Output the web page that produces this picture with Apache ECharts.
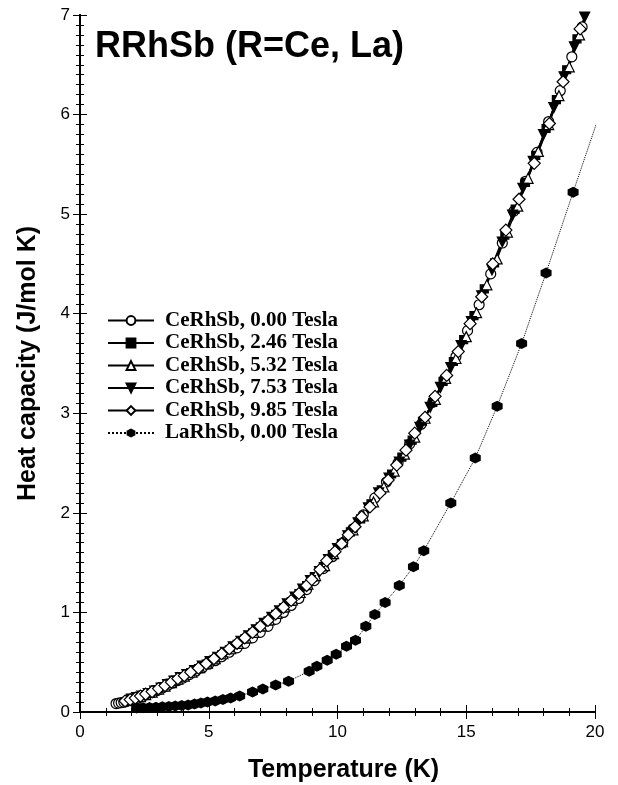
<!DOCTYPE html>
<html>
<head>
<meta charset="utf-8">
<title>RRhSb heat capacity</title>
<script src="https://cdn.jsdelivr.net/npm/echarts@6/dist/echarts.min.js"></script>
<style>
  html, body { margin: 0; padding: 0; background: #fff; }
  #heatChart { width: 618px; height: 785px; }
</style>
</head>
<body>
<div id="heatChart"></div>
<script>
// [T (K), C (J/mol K)]
const ce000 = [[1.40,.085],[1.50,.09],[1.60,.095],[1.70,.10],[1.80,.105],[1.90,.115],[2.00,.12],[2.15,.13],[2.30,.145],[2.45,.16],[2.60,.175],[2.80,.195],[3.00,.215],[3.20,.24],[3.40,.265],[3.60,.29],[3.80,.315],[4.00,.34],[4.25,.375],[4.50,.41],[4.75,.445],[5.00,.48],[5.25,.515],[5.50,.555],[5.80,.60],[6.10,.645],[6.40,.69],[6.70,.745],[7.00,.80],[7.30,.86],[7.60,.93],[7.90,1.00],[8.20,1.07],[8.50,1.14],[8.80,1.23],[9.10,1.32],[9.45,1.44],[9.80,1.56],[10.2,1.70],[10.6,1.84],[11.0,1.98],[11.45,2.15],[11.9,2.31],[12.35,2.50],[12.8,2.69],[13.25,2.89],[13.7,3.11],[14.15,3.34],[14.6,3.57],[15.05,3.83],[15.5,4.09],[15.95,4.40],[16.4,4.71],[16.85,5.03],[17.3,5.33],[17.75,5.62],[18.2,5.93],[18.65,6.24],[19.1,6.58],[19.5,6.88],[19.8,7.15]]
const ce246 = [[1.90,.12],[2.10,.135],[2.30,.15],[2.50,.17],[2.75,.195],[3.00,.225],[3.25,.255],[3.50,.29],[3.75,.32],[4.00,.355],[4.30,.395],[4.60,.435],[4.90,.48],[5.20,.525],[5.50,.575],[5.80,.625],[6.10,.68],[6.40,.735],[6.70,.795],[7.00,.855],[7.30,.915],[7.60,.98],[7.90,1.045],[8.20,1.11],[8.50,1.19],[8.80,1.27],[9.10,1.36],[9.45,1.46],[9.80,1.58],[10.15,1.69],[10.5,1.81],[10.9,1.94],[11.3,2.09],[11.7,2.23],[12.1,2.39],[12.5,2.56],[12.9,2.73],[13.3,2.92],[13.7,3.11],[14.1,3.32],[14.5,3.52],[14.9,3.74],[15.3,3.98],[15.7,4.25],[16.1,4.51],[16.5,4.79],[16.9,5.05],[17.3,5.32],[17.7,5.59],[18.1,5.86],[18.5,6.15],[18.9,6.45],[19.3,6.76],[19.65,7.03]]
const ce532 = [[1.95,.125],[2.15,.14],[2.35,.155],[2.55,.175],[2.80,.20],[3.05,.23],[3.30,.26],[3.55,.295],[3.80,.33],[4.05,.36],[4.35,.40],[4.65,.445],[4.95,.49],[5.25,.535],[5.55,.585],[5.85,.635],[6.15,.69],[6.45,.745],[6.75,.80],[7.05,.865],[7.35,.925],[7.65,.99],[7.95,1.055],[8.25,1.125],[8.55,1.20],[8.85,1.285],[9.15,1.37],[9.5,1.47],[9.85,1.59],[10.2,1.71],[10.6,1.83],[11.0,1.97],[11.4,2.11],[11.8,2.26],[12.2,2.42],[12.6,2.59],[13.0,2.76],[13.4,2.95],[13.8,3.14],[14.2,3.35],[14.6,3.55],[15.0,3.77],[15.4,4.01],[15.8,4.29],[16.2,4.55],[16.6,4.82],[17.0,5.08],[17.4,5.36],[17.8,5.63],[18.2,5.90],[18.6,6.19],[19.0,6.48],[19.4,6.80],[19.7,7.06]]
const ce753 = [[2.00,.13],[2.20,.145],[2.40,.16],[2.65,.185],[2.90,.21],[3.15,.24],[3.40,.275],[3.65,.31],[3.90,.345],[4.15,.375],[4.45,.415],[4.75,.46],[5.05,.505],[5.35,.55],[5.65,.60],[5.95,.655],[6.25,.71],[6.55,.765],[6.85,.825],[7.15,.89],[7.45,.95],[7.75,1.015],[8.05,1.085],[8.35,1.155],[8.65,1.235],[8.95,1.32],[9.3,1.41],[9.65,1.53],[10.0,1.64],[10.4,1.77],[10.8,1.90],[11.2,2.05],[11.6,2.20],[12.0,2.35],[12.4,2.51],[12.8,2.68],[13.2,2.86],[13.6,3.06],[14.0,3.26],[14.4,3.46],[14.8,3.68],[15.2,3.92],[15.6,4.18],[16.0,4.44],[16.4,4.72],[16.8,4.99],[17.2,5.26],[17.6,5.53],[18.0,5.80],[18.4,6.07],[18.8,6.38],[19.2,6.68],[19.6,6.98]]
const ce985 = [[1.75,.11],[1.95,.125],[2.15,.14],[2.35,.16],[2.55,.18],[2.80,.205],[3.05,.235],[3.30,.265],[3.55,.30],[3.80,.335],[4.05,.365],[4.30,.40],[4.60,.44],[4.90,.485],[5.20,.535],[5.50,.585],[5.80,.635],[6.10,.69],[6.40,.745],[6.70,.80],[7.00,.86],[7.30,.92],[7.60,.985],[7.90,1.05],[8.20,1.12],[8.50,1.19],[8.80,1.27],[9.00,1.33],[9.32,1.43],[9.58,1.52],[9.90,1.61],[10.16,1.69],[10.42,1.78],[10.68,1.86],[10.94,1.96],[11.26,2.06],[11.65,2.20],[11.97,2.33],[12.3,2.48],[12.66,2.63],[13.0,2.80],[13.4,2.96],[13.79,3.17],[14.24,3.38],[14.69,3.62],[15.15,3.90],[15.6,4.17],[16.03,4.50],[16.54,4.84],[17.05,5.15],[17.64,5.51],[18.23,5.91],[18.76,6.33],[19.42,6.86]]
const la000 = [[2.2,.04],[2.45,.042],[2.7,.045],[2.95,.048],[3.2,.052],[3.45,.056],[3.7,.06],[3.95,.065],[4.2,.07],[4.45,.08],[4.7,.09],[4.95,.10],[5.25,.11],[5.55,.125],[5.85,.14],[6.2,.16],[6.7,.20],[7.1,.23],[7.6,.27],[8.1,.31],[8.9,.41],[9.2,.46],[9.6,.52],[9.95,.58],[10.35,.66],[10.7,.72],[11.1,.86],[11.45,.98],[11.85,1.10],[12.4,1.27],[12.95,1.46],[13.35,1.62],[14.4,2.10],[15.35,2.55],[16.2,3.07],[17.15,3.70],[18.1,4.41],[19.15,5.22],[20.2,6.02]]

const seriesNames = ['CeRhSb, 0.00 Tesla', 'CeRhSb, 2.46 Tesla', 'CeRhSb, 5.32 Tesla', 'CeRhSb, 7.53 Tesla', 'CeRhSb, 9.85 Tesla', 'LaRhSb, 0.00 Tesla']
const xTicks = [0, 5, 10, 15, 20]
const yTicks = [0, 1, 2, 3, 4, 5, 6, 7]

const hexagon = 'path://M0,-10 L8.66,-5 L8.66,5 L0,10 L-8.66,5 L-8.66,-5 Z'

function ceSeries(name, data, symbol, size, filled, rotate) {
  return {
    name: name,
    type: 'line',
    data: data,
    symbol: symbol,
    symbolSize: size,
    symbolRotate: rotate || 0,
    clip: true,
    itemStyle: {
      color: filled ? '#000' : '#fff',
      borderColor: '#000',
      borderWidth: 1.2
    },
    lineStyle: { color: '#000', width: 1.3 },
    emphasis: { disabled: true }
  }
}

const chart = echarts.init(document.getElementById('heatChart'))
const axisFont = { fontFamily: 'Liberation Sans, Arial, sans-serif', fontSize: 17, color: '#000' }
const nameFont = { fontFamily: 'Liberation Sans, Arial, sans-serif', fontSize: 25, fontWeight: 'bold', color: '#000' }

chart.setOption({
  backgroundColor: '#fff',
  animation: false,
  title: {
    text: 'RRhSb (R=Ce, La)',
    left: 90,
    top: 24,
    textStyle: { fontFamily: 'Liberation Sans, Arial, sans-serif', fontSize: 36, fontWeight: 'bold', color: '#000' }
  },
  legend: {
    orient: 'vertical',
    left: 102,
    top: 305,
    itemWidth: 46,
    itemHeight: 11,
    itemGap: 1.5,
    data: seriesNames,
    textStyle: { fontFamily: 'Liberation Serif, Times New Roman, serif', fontSize: 21, fontWeight: 'bold', color: '#000', lineHeight: 18, padding: [0, 0, 0, 6] }
  },
  grid: { left: 80, right: 23, top: 15, bottom: 73, containLabel: false, outerBoundsMode: 'none' },
  xAxis: [{
    type: 'value',
    min: xTicks[0],
    max: xTicks[xTicks.length - 1],
    interval: 5,
    name: 'Temperature (K)',
    nameLocation: 'middle',
    nameGap: 46,
    nameTextStyle: Object.assign({ padding: [0, 0, 0, 12] }, nameFont),
    axisLine: { lineStyle: { color: '#000', width: 2 } },
    axisTick: { inside: true, length: 7, lineStyle: { color: '#000' } },
    minorTick: { show: true, splitNumber: 5, length: 4, lineStyle: { color: '#000' } },
    axisLabel: Object.assign({ margin: 12 }, axisFont),
    splitLine: { show: false }
  }, {
    type: 'value',
    position: 'top',
    min: xTicks[0],
    max: xTicks[xTicks.length - 1],
    interval: 5,
    axisLine: { lineStyle: { color: '#000', width: 2 } },
    axisTick: { inside: true, length: 7, lineStyle: { color: '#000' } },
    minorTick: { show: true, splitNumber: 5, length: 4, lineStyle: { color: '#000' } },
    axisLabel: { show: false },
    splitLine: { show: false }
  }],
  yAxis: [{
    type: 'value',
    min: yTicks[0],
    max: yTicks[yTicks.length - 1],
    interval: 1,
    name: 'Heat capacity (J/mol K)',
    nameLocation: 'middle',
    nameGap: 39,
    nameTextStyle: nameFont,
    axisLine: { show: true, lineStyle: { color: '#000', width: 2 } },
    axisTick: { show: true, inside: true, length: 7, lineStyle: { color: '#000' } },
    minorTick: { show: true, splitNumber: 10, length: 4, lineStyle: { color: '#000' } },
    axisLabel: Object.assign({ margin: 10 }, axisFont),
    splitLine: { show: false }
  }, {
    type: 'value',
    position: 'right',
    min: yTicks[0],
    max: yTicks[yTicks.length - 1],
    interval: 1,
    axisLine: { show: true, lineStyle: { color: '#000', width: 2 } },
    axisTick: { show: true, inside: true, length: 7, lineStyle: { color: '#000' } },
    minorTick: { show: true, splitNumber: 10, length: 4, lineStyle: { color: '#000' } },
    axisLabel: { show: false },
    splitLine: { show: false }
  }],
  series: [
    ceSeries(seriesNames[0], ce000, 'circle', 10, false),
    ceSeries(seriesNames[1], ce246, 'rect', 8, true),
    ceSeries(seriesNames[2], ce532, 'triangle', 10, false),
    ceSeries(seriesNames[3], ce753, 'triangle', 10, true, 180),
    ceSeries(seriesNames[4], ce985, 'diamond', 12, false),
    {
      name: seriesNames[5],
      type: 'line',
      data: la000,
      symbol: hexagon,
      symbolSize: 11,
      clip: true,
      itemStyle: { color: '#000' },
      lineStyle: { color: '#000', width: 1, type: 'dotted' },
      emphasis: { disabled: true }
    }
  ]
})
</script>
</body>
</html>
